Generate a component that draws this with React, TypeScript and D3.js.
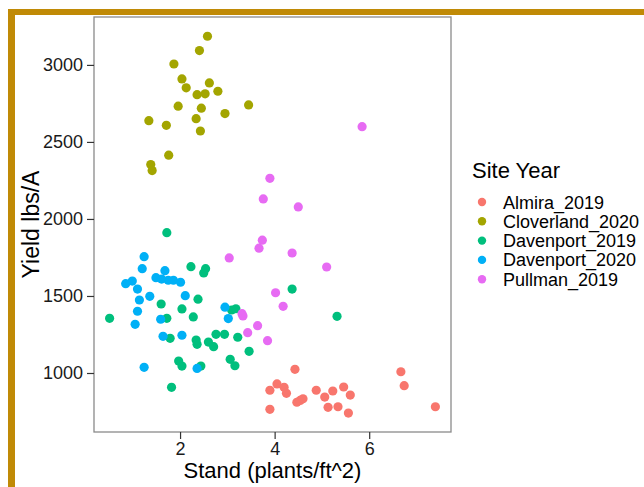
import React, { useEffect, useRef } from "react";
import * as d3 from "d3";

// site years and their colours (ggplot default hue palette)
const siteYears = ["Almira_2019", "Cloverland_2020", "Davenport_2019", "Davenport_2020", "Pullman_2019"];
const siteColors = ["#F8766D", "#A3A500", "#00BF7D", "#00B0F6", "#E76BF3"];

// [stand (plants/ft^2), yield lbs/A]
const almira2019 = [
  [3.9, 888], [3.9, 764], [4.05, 929], [4.2, 907], [4.25, 868], [4.43, 1024],
  [4.47, 810], [4.54, 822], [4.6, 833], [4.88, 888], [5.06, 844], [5.13, 777],
  [5.23, 883], [5.34, 781], [5.46, 909], [5.56, 740], [5.6, 857], [6.67, 1008],
  [6.74, 918], [7.4, 781],
];
const cloverland2020 = [
  [2.58, 3186], [2.41, 3093], [1.87, 3006], [2.04, 2909], [2.62, 2883], [2.13, 2851],
  [2.36, 2807], [2.53, 2812], [2.8, 2829], [3.45, 2740], [1.96, 2732], [2.45, 2719],
  [2.95, 2684], [1.34, 2638], [2.34, 2651], [1.71, 2608], [2.43, 2571], [1.76, 2414],
  [1.38, 2353], [1.41, 2314],
];
const davenport2019 = [
  [0.51, 1355], [1.6, 1448], [1.72, 1911], [1.72, 1355], [1.79, 1225], [1.82, 907],
  [1.97, 1078], [2.04, 1416], [2.04, 1045], [2.23, 1690], [2.28, 1364], [2.34, 1214],
  [2.36, 1186], [2.38, 1479], [2.44, 1045], [2.5, 1649], [2.54, 1677], [2.6, 1201],
  [2.71, 1171], [2.76, 1251], [2.94, 1251], [3.06, 1089], [3.09, 1409], [3.16, 1047],
  [3.18, 1417], [3.22, 1232], [3.46, 1141], [4.37, 1545], [5.32, 1368],
];
const davenport2020 = [
  [0.85, 1580], [0.99, 1597], [1.05, 1316], [1.1, 1545], [1.1, 1401], [1.14, 1474],
  [1.2, 1677], [1.24, 1755], [1.24, 1037], [1.36, 1498], [1.49, 1619], [1.59, 1349],
  [1.61, 1610], [1.64, 1238], [1.68, 1664], [1.75, 1602], [1.86, 1602], [2.01, 1589],
  [2.04, 1245], [2.11, 1502], [2.36, 1030], [2.95, 1427], [3.02, 1353],
];
const pullman2019 = [
  [5.85, 2599], [3.9, 2264], [3.76, 2130], [4.5, 2078], [3.74, 1862], [3.67, 1810],
  [4.37, 1779], [3.04, 1747], [5.1, 1688], [4.02, 1521], [4.18, 1433], [3.31, 1385],
  [3.33, 1370], [3.64, 1307], [3.43, 1262], [3.85, 1210],
];

const xTicks = [2, 4, 6];
const yTicks = [1000, 1500, 2000, 2500, 3000];

const App = () => {
  const svgRef = useRef(null);

  useEffect(() => {
    const svg = d3.select(svgRef.current);
    svg.selectAll("*").remove();

    const font = "'Liberation Sans', Arial, sans-serif";
    const panel = { left: 94, top: 17, right: 451, bottom: 432 };

    // gold frame (cropped from a bigger picture)
    svg.append("rect").attr("x", 8).attr("y", 9).attr("width", 636).attr("height", 6).attr("fill", "#C08A06");
    svg.append("rect").attr("x", 8).attr("y", 9).attr("width", 7).attr("height", 478).attr("fill", "#C08A06");

    const x = d3.scaleLinear().domain([0.18, 7.73]).range([panel.left, panel.right]);
    const y = d3.scaleLinear().domain([617, 3311]).range([panel.bottom, panel.top]);

    // points
    const series = [almira2019, cloverland2020, davenport2019, davenport2020, pullman2019];
    series.forEach((pts, i) => {
      svg
        .append("g")
        .selectAll("circle")
        .data(pts)
        .join("circle")
        .attr("cx", (d) => x(d[0]))
        .attr("cy", (d) => y(d[1]))
        .attr("r", 4.6)
        .attr("fill", siteColors[i]);
    });

    // panel border
    svg
      .append("rect")
      .attr("x", panel.left)
      .attr("y", panel.top)
      .attr("width", panel.right - panel.left)
      .attr("height", panel.bottom - panel.top)
      .attr("fill", "none")
      .attr("stroke", "#8a8a8a")
      .attr("stroke-width", 1.3);

    // axes
    const xAxis = svg
      .append("g")
      .attr("transform", `translate(0, ${panel.bottom})`)
      .call(d3.axisBottom(x).tickValues(xTicks).tickSize(7).tickSizeOuter(0).tickPadding(3));
    const yAxis = svg
      .append("g")
      .attr("transform", `translate(${panel.left}, 0)`)
      .call(
        d3.axisLeft(y).tickValues(yTicks).tickFormat(d3.format("d")).tickSize(7).tickSizeOuter(0).tickPadding(4)
      );
    [xAxis, yAxis].forEach((ax) => {
      ax.select(".domain").remove();
      ax.selectAll("line").attr("stroke", "#333").attr("stroke-width", 1.2);
      ax.selectAll("text").attr("font-family", font).attr("font-size", 18).attr("fill", "#1a1a1a");
    });

    // axis titles
    svg
      .append("text")
      .text("Stand (plants/ft^2)")
      .attr("x", (panel.left + panel.right) / 2)
      .attr("y", 478)
      .attr("text-anchor", "middle")
      .attr("font-family", font)
      .attr("font-size", 22);
    svg
      .append("text")
      .text("Yield lbs/A")
      .attr("transform", `translate(39, ${(panel.top + panel.bottom) / 2}) rotate(-90)`)
      .attr("text-anchor", "middle")
      .attr("font-family", font)
      .attr("font-size", 23);

    // legend
    const legend = svg.append("g").attr("transform", "translate(472, 0)");
    legend
      .append("text")
      .text("Site Year")
      .attr("x", 0)
      .attr("y", 178)
      .attr("font-family", font)
      .attr("font-size", 22);
    const rows = legend
      .selectAll("g.row")
      .data(siteYears)
      .join("g")
      .attr("class", "row")
      .attr("transform", (d, i) => `translate(0, ${202 + i * 19.3})`);
    rows.append("circle").attr("cx", 10).attr("cy", 0).attr("r", 4.2).attr("fill", (d, i) => siteColors[i]);
    rows
      .append("text")
      .text((d) => d)
      .attr("x", 31)
      .attr("y", 6.5)
      .attr("font-family", font)
      .attr("font-size", 18);
  }, []);

  return (
    <div>
      <svg ref={svgRef} width={644} height={487} style={{ position: "absolute", left: 0, top: 0, background: "#fff" }} />
    </div>
  );
};

export default App;
